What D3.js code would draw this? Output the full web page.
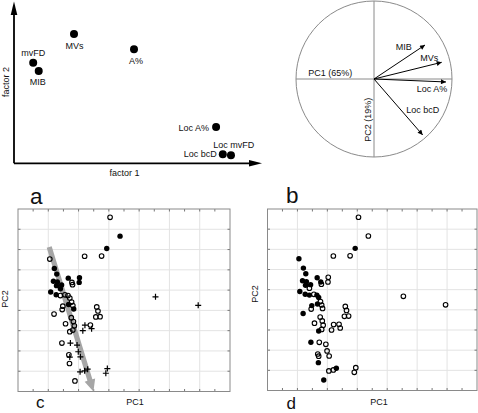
<!DOCTYPE html>
<html><head><meta charset="utf-8">
<script src="https://cdn.jsdelivr.net/npm/d3@7"></script>
<style>
body{margin:0;background:#fff}
svg{display:block}
text{font-family:"Liberation Sans",Arial,sans-serif;fill:#111}
</style>
</head><body>
<svg id="chart" width="478" height="413"></svg>
<script>
// ---------- panel a : factor plot ----------
const factorLabels = ["mvFD", "MIB", "MVs", "A%", "Loc A%", "Loc bcD", "Loc mvFD"];
const factor1 = [8.0, 10.3, 25.0, 50.0, 84.2, 87.0, 90.4];
const factor2 = [62.8, 57.6, 80.7, 71.1, 22.6, 5.6, 5.0];
const factorAxisLabels = ["factor 1", "factor 2"];

// ---------- panel b : correlation circle ----------
const loadingLabels = ["MIB", "MVs", "Loc A%", "Loc bcD"];
const loadingPC1 = [0.654, 0.868, 0.923, 0.624];
const loadingPC2 = [0.436, 0.214, -0.038, -0.718];
const pcAxisLabels = ["PC1 (65%)", "PC2 (19%)"];

// ---------- panels c & d : PCA scores ----------
const pc1Scores = [1.04, 1.37, 0.93, 0.20, 0.76, 2.54, 3.95, -0.95, -0.80, -0.72,
  -0.83, -0.70, -0.73, -0.56, -0.34, 0.03, 0.02, -0.22, -0.20, -0.60,
  -0.92, -0.74, -0.60, -0.45, -0.35, -0.29, -0.23, -0.19, -0.16, -0.33,
  -0.52, -0.54, -0.81, 0.60, 0.64, 0.57, 0.71, -0.24, -0.17, -0.43,
  -0.14, -0.29, -0.19, 0.21, 0.14, 0.39, 0.43, -0.55, -0.27, -0.05,
  -0.01, 0.06, -0.32, -0.29, -0.30, 0.30, 0.20, 0.05, 0.95, 0.90, -0.12];
const pc2Scores = [3.59, 2.66, 2.05, 1.67, 1.68, -0.33, -0.75, 1.53, 1.07, 0.79,
  0.44, 0.40, 0.22, 0.25, 0.59, 0.61, 0.38, 0.38, 0.27, 0.07,
  -0.09, -0.23, -0.27, -0.23, -0.27, -0.39, -0.59, -0.76, -0.93, -0.71,
  -0.79, -0.96, -1.18, -0.83, -1.03, -1.32, -1.31, -1.36, -1.55, -1.66,
  -1.76, -2.05, -1.97, -1.73, -2.00, -1.72, -1.90, -2.61, -2.61, -2.71,
  -3.04, -3.29, -3.19, -3.30, -3.62, -3.90, -3.98, -4.03, -3.87, -4.10, -4.48];
// F = filled circle, O = open circle, P = plus
const groupC = ["O","F","F","O","O","P","P","O","F","F",
  "F","F","F","F","F","F","F","O","O","F",
  "F","F","O","O","O","O","O","O","F","F",
  "O","O","O","O","O","O","O","O","O","O",
  "O","O","O","P","P","O","P","O","P","P",
  "P","P","O","P","O","P","P","P","P","P","O"];
const groupD = ["O","O","F","O","O","O","O","F","F","F",
  "F","F","F","F","F","O","O","F","O","O",
  "F","F","F","O","F","F","O","O","O","F",
  "F","O","F","O","O","O","O","O","O","O",
  "O","F","O","O","O","O","O","F","O","O",
  "O","O","O","O","F","F","O","O","O","O","F"];
const trendPC1 = [-0.97, 0.49];
const trendPC2 = [2.13, -5.0];
const scoreAxisLabels = ["PC1", "PC2"];
const pc1Domain = [-2, 5];
const pc2Domain = [-5, 4];
const panelLetters = ["a", "b", "c", "d"];

const svg = d3.select("#chart");
const defs = svg.append("defs");
defs.append("marker").attr("id", "vecHead").attr("viewBox", "0 0 10 10")
  .attr("refX", 10).attr("refY", 5).attr("markerWidth", 7).attr("markerHeight", 5)
  .attr("markerUnits", "userSpaceOnUse").attr("orient", "auto")
  .append("path").attr("d", "M0,0L10,5L0,10Z").attr("fill", "#000");

// ================= PANEL A =================
(function () {
  const g = svg.append("g");
  const x = d3.scaleLinear().domain([0, 100]).range([14, 254]);
  const y = d3.scaleLinear().domain([0, 100]).range([163.3, 3]);
  const ox = x(0), oy = y(0);
  g.append("line").attr("x1", ox).attr("y1", oy).attr("x2", 250).attr("y2", oy)
    .attr("stroke", "#000").attr("stroke-width", 1.8);
  g.append("line").attr("x1", ox).attr("y1", oy).attr("x2", ox).attr("y2", 14)
    .attr("stroke", "#000").attr("stroke-width", 1.8);
  g.append("path").attr("d", `M${262},${oy}L${249},${oy - 3.3}L${249},${oy + 3.3}Z`).attr("fill", "#000");
  g.append("path").attr("d", `M${ox},${1.5}L${ox - 3.3},${15}L${ox + 3.3},${15}Z`).attr("fill", "#000");

  const lab = [
    { dx: 0, dy: -6.7, a: "middle" },
    { dx: -1, dy: 13.7, a: "middle" },
    { dx: 0.5, dy: 14.7, a: "middle" },
    { dx: 2, dy: 15, a: "middle" },
    { dx: -7, dy: 4, a: "end" },
    { dx: -6, dy: 3, a: "end" },
    { dx: -17.7, dy: -7.6, a: "start" }
  ];
  factorLabels.forEach((name, i) => {
    const px = x(factor1[i]), py = y(factor2[i]);
    g.append("circle").attr("cx", px).attr("cy", py).attr("r", 4).attr("fill", "#000");
    g.append("text").attr("x", px + lab[i].dx).attr("y", py + lab[i].dy)
      .attr("text-anchor", lab[i].a).attr("font-size", 9).text(name);
  });
  g.append("text").attr("x", 124.5).attr("y", 175.5).attr("text-anchor", "middle")
    .attr("font-size", 9).text(factorAxisLabels[0]);
  g.append("text").attr("transform", "translate(8.5,82) rotate(-90)").attr("text-anchor", "middle")
    .attr("font-size", 9).text(factorAxisLabels[1]);
  g.append("text").attr("x", 30).attr("y", 204).attr("font-size", 22.5).text(panelLetters[0]);
})();

// ================= PANEL B =================
(function () {
  const g = svg.append("g");
  const cx = 374, cy = 79, R = 78;
  const x = d3.scaleLinear().domain([-1, 1]).range([cx - R, cx + R]);
  const y = d3.scaleLinear().domain([-1, 1]).range([cy + R, cy - R]);
  g.append("circle").attr("cx", x(0)).attr("cy", y(0)).attr("r", R)
    .attr("fill", "none").attr("stroke", "#8a8a8a").attr("stroke-width", 1);
  g.append("line").attr("x1", x(-1)).attr("x2", x(1)).attr("y1", y(0)).attr("y2", y(0))
    .attr("stroke", "#8a8a8a").attr("stroke-width", 1);
  g.append("line").attr("x1", x(0)).attr("x2", x(0)).attr("y1", y(-1)).attr("y2", y(1))
    .attr("stroke", "#8a8a8a").attr("stroke-width", 1);
  g.append("text").attr("x", 308.3).attr("y", 76).attr("font-size", 9).text(pcAxisLabels[0]);
  g.append("text").attr("transform", "translate(371.3,119.7) rotate(-90)").attr("text-anchor", "middle")
    .attr("font-size", 9).text(pcAxisLabels[1]);
  const lab = [
    { dx: -13.3, dy: 5 },
    { dx: -3.4, dy: -1.3 },
    { dx: 1.3, dy: 9.7 },
    { dx: 16.6, dy: -21.7 }
  ];
  loadingLabels.forEach((name, i) => {
    const tx = x(loadingPC1[i]), ty = y(loadingPC2[i]);
    g.append("line").attr("x1", x(0)).attr("y1", y(0)).attr("x2", tx).attr("y2", ty)
      .attr("stroke", "#000").attr("stroke-width", 1).attr("marker-end", "url(#vecHead)");
    g.append("text").attr("x", tx + lab[i].dx).attr("y", ty + lab[i].dy)
      .attr("text-anchor", "end").attr("font-size", 9).text(name);
  });
  g.append("text").attr("x", 286).attr("y", 203.3).attr("font-size", 22.5).text(panelLetters[1]);
})();

// ================= PANELS C & D =================
function scorePanel(box, groups, letter, letterPos, withTrend, pcLabelPos, pc2Pos) {
  const g = svg.append("g");
  const x = d3.scaleLinear().domain(pc1Domain).range([box.l, box.r]);
  const y = d3.scaleLinear().domain(pc2Domain).range([box.b, box.t]);
  const xt = d3.range(pc1Domain[0] + 1, pc1Domain[1], 1);
  const yt = d3.range(pc2Domain[0] + 1, pc2Domain[1], 1);
  g.selectAll(".gx").data(xt).join("line").attr("x1", d => x(d)).attr("x2", d => x(d))
    .attr("y1", box.t).attr("y2", box.b).attr("stroke", "#e3e3e3").attr("stroke-width", 1);
  g.selectAll(".gy").data(yt).join("line").attr("y1", d => y(d)).attr("y2", d => y(d))
    .attr("x1", box.l).attr("x2", box.r).attr("stroke", "#e3e3e3").attr("stroke-width", 1);
  const xMinor = d3.range(pc1Domain[0] + 0.5, pc1Domain[1], 0.5);
  const tk = 2.5;
  xMinor.forEach(v => {
    g.append("line").attr("x1", x(v)).attr("x2", x(v)).attr("y1", box.t).attr("y2", box.t + tk).attr("stroke", "#777");
    g.append("line").attr("x1", x(v)).attr("x2", x(v)).attr("y1", box.b).attr("y2", box.b - tk).attr("stroke", "#777");
  });
  yt.forEach(v => {
    g.append("line").attr("y1", y(v)).attr("y2", y(v)).attr("x1", box.l).attr("x2", box.l + tk).attr("stroke", "#777");
    g.append("line").attr("y1", y(v)).attr("y2", y(v)).attr("x1", box.r).attr("x2", box.r - tk).attr("stroke", "#777");
  });
  if (withTrend) {
    const x0 = x(trendPC1[0]), y0 = y(trendPC2[0]), x1 = x(trendPC1[1]), y1 = y(trendPC2[1]);
    const ang = Math.atan2(y1 - y0, x1 - x0);
    const headL = 12, headW = 5.5, shaft = 2.6;
    const ux = Math.cos(ang), uy = Math.sin(ang), nx = -uy, ny = ux;
    const bx = x1 - ux * headL, by = y1 - uy * headL;
    const pts = [
      [x0 + nx * shaft, y0 + ny * shaft], [bx + nx * shaft, by + ny * shaft],
      [bx + nx * headW, by + ny * headW], [x1, y1],
      [bx - nx * headW, by - ny * headW], [bx - nx * shaft, by - ny * shaft],
      [x0 - nx * shaft, y0 - ny * shaft]
    ];
    g.append("path").attr("d", "M" + pts.map(p => p.join(",")).join("L") + "Z").attr("fill", "#a6a6a6");
  }
  pc1Scores.forEach((v, i) => {
    const px = x(v), py = y(pc2Scores[i]), k = groups[i];
    if (k === "F") {
      g.append("circle").attr("cx", px).attr("cy", py).attr("r", 2.7).attr("fill", "#000");
    } else if (k === "O") {
      g.append("circle").attr("cx", px).attr("cy", py).attr("r", 2.3).attr("fill", "none")
        .attr("stroke", "#000").attr("stroke-width", 1.1);
    } else {
      g.append("path").attr("d", `M${px - 3},${py}H${px + 3}M${px},${py - 3}V${py + 3}`)
        .attr("stroke", "#000").attr("stroke-width", 1.2);
    }
  });
  g.append("rect").attr("x", box.l).attr("y", box.t).attr("width", box.r - box.l).attr("height", box.b - box.t)
    .attr("fill", "none").attr("stroke", "#8a8a8a").attr("stroke-width", 1);
  g.append("text").attr("x", pcLabelPos[0]).attr("y", pcLabelPos[1]).attr("text-anchor", "middle")
    .attr("font-size", 9).text(scoreAxisLabels[0]);
  g.append("text").attr("transform", `translate(${pc2Pos[0]},${pc2Pos[1]}) rotate(-90)`).attr("text-anchor", "middle")
    .attr("font-size", 9).text(scoreAxisLabels[1]);
  g.append("text").attr("x", letterPos[0]).attr("y", letterPos[1]).attr("font-size", 17).text(letter);
}
scorePanel({ l: 18, r: 230, t: 209, b: 391.5 }, groupC, panelLetters[2], [36, 408], true, [135, 404.5], [8, 299]);
scorePanel({ l: 267.5, r: 477, t: 209, b: 390.5 }, groupD, panelLetters[3], [286.5, 409], false, [379, 404.5], [258.3, 294]);
</script>
</body></html>
